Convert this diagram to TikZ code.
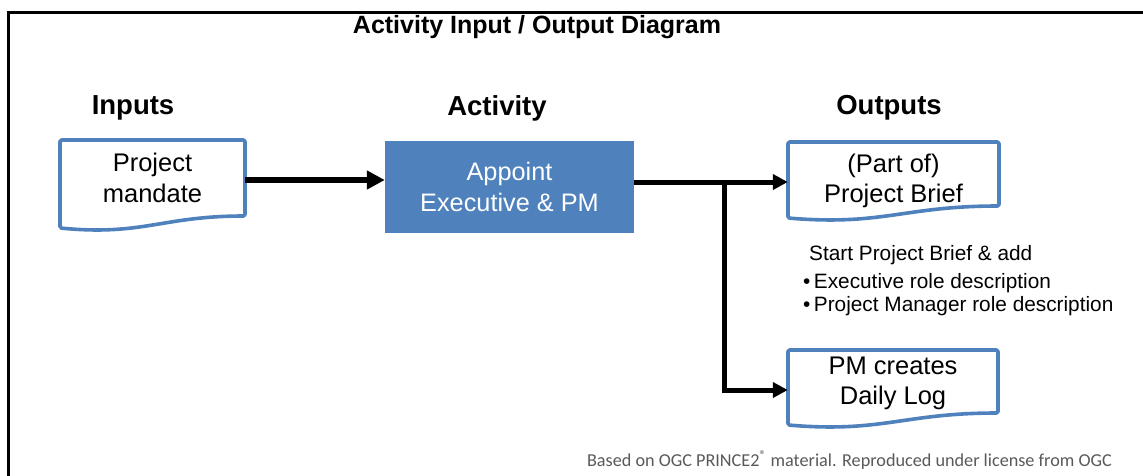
\documentclass[tikz,border=0pt]{standalone}
\usepackage{fontspec}
\setmainfont{Liberation Sans}
\newfontfamily\footfont{Carlito}
\usetikzlibrary{arrows.meta}
\definecolor{docblue}{HTML}{4F81BD}
\definecolor{footgray}{HTML}{595959}
% #1 node name, #2 width, #3 height (top to right-bottom), #4 downward offset of outline centre
\newcommand\docoutline[4]{%
  \draw[docline] ([shift={(-#2/2,-#3/2+#4)}]#1.center) -- ([shift={(#2/2,-#3/2+#4)}]#1.center)
    -- ([shift={(#2/2,#3/2+#4)}]#1.center)
    .. controls ([shift={(0.05*#2,#3/2+#4)}]#1.center) and ([shift={(-0.05*#2,#3/2+#4+20)}]#1.center)
    .. ([shift={(-#2/2,#3/2+#4+12)}]#1.center) -- cycle;}
\begin{document}
\begin{tikzpicture}[x=1pt,y=-1pt,
  doc/.style={rectangle, inner sep=0pt, align=center, font=\fontsize{25.5}{30.5}\selectfont},
  docline/.style={draw=docblue, line width=3.6pt, line join=round, rounded corners=1.5pt},
  actbox/.style={rectangle, fill=docblue, inner sep=0pt, align=center, text=white, font=\fontsize{25.3}{31}\selectfont},
  head/.style={font=\bfseries\fontsize{27.5}{30}\selectfont},
  bigarrow/.style={line width=6pt, -{Triangle[length=18pt,width=18pt]}},
  outarrow/.style={line width=5pt, -{Triangle[length=15pt,width=15pt]}},
  note/.style={anchor=west, inner sep=0pt, font=\fontsize{20.8}{23}\selectfont},
]
\useasboundingbox (0,0) rectangle (1143,475);
% frame
\draw[line width=3pt] (8,476) -- (8,12) -- (1144,12);
% title and headers
\node[font=\bfseries\fontsize{25}{28}\selectfont] (title) at (537,27) {Activity Input / Output Diagram};
\node[head] (hin) at (133,108) {Inputs};
\node[head] (hact) at (497,108) {Activity};
\node[head] (hout) at (889,108) {Outputs};
% nodes
\node[doc, minimum width=185pt] (mandate) at (152.5,178) {Project\\mandate};
\node[actbox, minimum width=249pt, minimum height=92pt] (act) at (509.5,187) {Appoint\\Executive \& PM};
\node[doc, minimum width=211pt] (brief) at (893.5,181) {(Part of)\\Project Brief};
\node[doc, minimum width=210pt] (daily) at (893,383.5) {PM creates\\Daily Log};
\docoutline{mandate}{185}{76}{0}
\docoutline{brief}{211}{64}{-7}
\docoutline{daily}{210}{63}{-2}
% note
\node[note] (n1) at (809,255) {Start Project Brief \& add};
\node[note] (n2) at (803,283) {\textbullet\,Executive role description};
\node[note] (n3) at (803,306) {\textbullet\,Project Manager role description};
% footer
\node[anchor=east, inner sep=0pt, text=footgray, font=\footfont\fontsize{18.2}{21}\selectfont] (foot) at (1112,460) {Based on OGC PRINCE2\textsuperscript{\textregistered} material. Reproduced under license from OGC};
% connectors
\coordinate (j) at (724,182);
\coordinate (k) at (724,390);
\draw[bigarrow] (mandate.east |- 0,180) -- (act.west |- 0,180);
\draw[outarrow] (act.east |- j) -- (brief.west |- j);
\draw[outarrow] (j) -- (k) -- (daily.west |- k);
\end{tikzpicture}
\end{document}
